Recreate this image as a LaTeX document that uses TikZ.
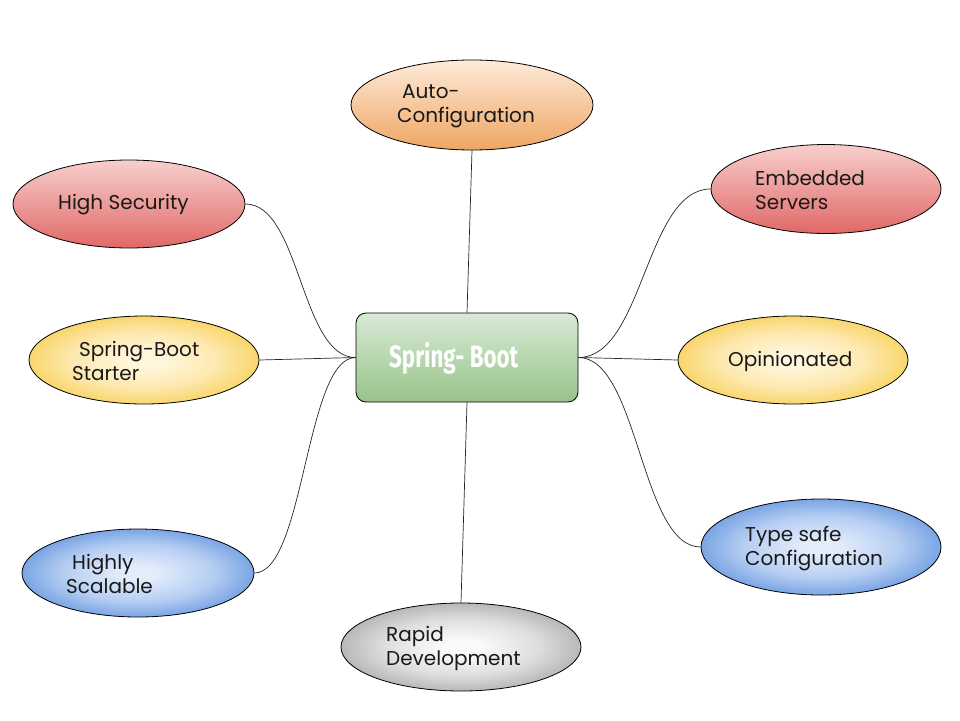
\documentclass[tikz,border=0pt]{standalone}
\usepackage{fontspec}
\setmainfont{Poppins}
\newfontfamily\titlefont[FakeStretch=0.72]{Fira Sans}
\usetikzlibrary{shapes.geometric}
\definecolor{redtop}{HTML}{F7CFCD}
\definecolor{redbot}{HTML}{E06866}
\definecolor{orgtop}{HTML}{FDEBD9}
\definecolor{orgbot}{HTML}{EFA563}
\definecolor{grntop}{HTML}{D8EAD6}
\definecolor{grnbot}{HTML}{98C389}
\definecolor{yelin}{HTML}{FFF6DC}
\definecolor{yelmid}{HTML}{FDE8AE}
\definecolor{yelout}{HTML}{F9D66C}
\definecolor{bluin}{HTML}{E2ECFB}
\definecolor{blumid}{HTML}{B6CEF2}
\definecolor{bluout}{HTML}{7AA5E4}
\definecolor{grayin}{HTML}{FAFAFA}
\definecolor{graymid}{HTML}{DEDEDE}
\definecolor{grayout}{HTML}{B8B8B8}
\pgfdeclareradialshading{yelrad}{\pgfpoint{0bp}{0bp}}{color(0bp)=(yelin); color(4bp)=(yelin); color(16bp)=(yelmid); color(25bp)=(yelout); color(50bp)=(yelout)}
\pgfdeclareradialshading{blurad}{\pgfpoint{0bp}{0bp}}{color(0bp)=(bluin); color(4bp)=(bluin); color(16bp)=(blumid); color(25bp)=(bluout); color(50bp)=(bluout)}
\pgfdeclareradialshading{grayrad}{\pgfpoint{0bp}{0bp}}{color(0bp)=(grayin); color(4bp)=(grayin); color(16bp)=(graymid); color(25bp)=(grayout); color(50bp)=(grayout)}
\tikzset{
  ell/.style={ellipse, draw=black, line width=0.8pt, inner sep=0pt},
  redell/.style={ell, top color=redtop, bottom color=redbot},
  orgell/.style={ell, top color=orgtop, bottom color=orgbot},
  yelell/.style={ell, shading=yelrad},
  bluell/.style={ell, shading=blurad},
  grayell/.style={ell, shading=grayrad},
  lbl/.style={anchor=west, align=left, inner sep=0pt, text=black!90,
    font=\fontsize{20}{24}\selectfont},
  conn/.style={draw=black!85, line width=0.7pt},
}
\begin{document}
\begin{tikzpicture}[x=1pt,y=-1pt]
\useasboundingbox (0,0) rectangle (960,720);
% central box
\node[draw=black, line width=0.8pt, rounded corners=10pt, minimum width=222pt,
  minimum height=89pt, top color=grntop, bottom color=grnbot] (sb) at (467,357.5) {};
\node[anchor=west, inner sep=0pt, text=white, font=\titlefont\bfseries\fontsize{31}{34}\selectfont] (sbt) at (389,358) {Spring- Boot};
% ellipses
\node[orgell, minimum width=242pt, minimum height=90pt] (auto) at (472,105) {};
\node[redell, minimum width=232pt, minimum height=88pt] (hs) at (129,204) {};
\node[redell, minimum width=230pt, minimum height=89pt] (es) at (826,189) {};
\node[yelell, minimum width=230pt, minimum height=88pt] (sbs) at (144,360) {};
\node[yelell, minimum width=230pt, minimum height=88pt] (op) at (793,360) {};
\node[bluell, minimum width=232pt, minimum height=88pt] (hsc) at (138,573) {};
\node[bluell, minimum width=240pt, minimum height=96pt] (ts) at (821,547) {};
\node[grayell, minimum width=240pt, minimum height=88pt] (rd) at (461,647) {};
% labels
\node[lbl] (autot) at (397,106) {\hspace*{5pt}Auto-\\Configuration};
\node[lbl] (hst) at (58,205) {High Security};
\node[lbl] (est) at (755,190) {Embedded\\Servers};
\node[lbl] (sbst) at (72,361) {\hspace*{7pt}Spring-Boot\\Starter};
\node[lbl] (opt) at (728,361) {Opinionated};
\node[lbl] (hsct) at (66,574) {\hspace*{6pt}Highly\\Scalable};
\node[lbl] (tst) at (745,549) {Type safe\\Configuration};
\node[lbl] (rdt) at (386,648) {Rapid\\Development};
% connectors
\draw[conn] (sb.north) -- (auto.south);
\draw[conn] (sb.south) -- (rd.north);
\draw[conn] (sb.west) -- (sbs.east);
\draw[conn] (sb.east) -- (op.west);
\draw[conn] (sb.west) .. controls +(-55,0) and +(55,0) .. (hs.east);
\draw[conn] (sb.west) .. controls +(-50,0) and +(50,0) .. (hsc.east);
\draw[conn] (sb.east) .. controls +(65,0) and +(-65,0) .. (es.west);
\draw[conn] (sb.east) .. controls +(60,0) and +(-60,0) .. (ts.west);
\end{tikzpicture}
\end{document}
